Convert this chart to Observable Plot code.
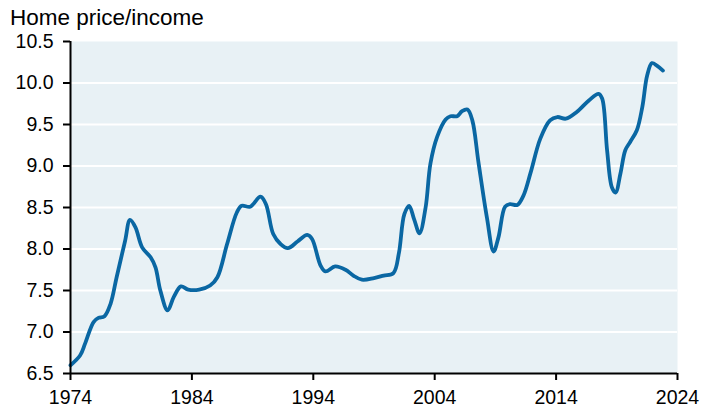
<!DOCTYPE html>
<html>
<head>
<meta charset="utf-8">
<script src="https://cdn.jsdelivr.net/npm/d3@7"></script>
<script src="https://cdn.jsdelivr.net/npm/@observablehq/plot@0.6"></script>
<style>
  html, body { margin: 0; padding: 0; background: #fff; }
  #sub { height: 23px; padding: 7px 0 0 10px; font: 22.5px "Liberation Sans", Arial, sans-serif; line-height: 1; color: #000; }
</style>
</head>
<body>
<div id="sub">Home price/income</div>
<div id="chart"></div>
<script>
const years = [1974.0,1974.8,1975.2,1975.9,1976.3,1976.8,1977.3,1977.8,1978.5,1978.9,1979.35,1979.9,1980.6,1981.0,1981.4,1982.0,1982.5,1983.1,1983.7,1984.6,1985.5,1986.1,1986.9,1987.7,1988.1,1988.8,1989.65,1990.1,1990.7,1991.3,1991.9,1992.7,1993.5,1993.9,1994.6,1995.0,1995.8,1996.65,1997.3,1998.0,1999.0,1999.8,2000.6,2001.05,2001.5,2001.9,2002.3,2002.75,2003.25,2003.65,2004.2,2004.9,2005.3,2005.85,2006.25,2006.7,2007.1,2007.6,2008.3,2008.85,2009.25,2009.8,2010.2,2010.8,2011.3,2011.9,2012.7,2013.5,2014.1,2014.8,2015.7,2016.7,2017.5,2017.8,2018.2,2018.6,2018.9,2019.3,2019.7,2020.1,2020.65,2021.1,2021.5,2021.9,2022.3,2022.8];
const ratio = [6.60,6.72,6.86,7.12,7.17,7.19,7.34,7.66,8.10,8.35,8.26,8.02,7.90,7.78,7.50,7.26,7.42,7.55,7.51,7.51,7.56,7.66,8.06,8.44,8.52,8.51,8.63,8.54,8.18,8.06,8.01,8.09,8.17,8.12,7.80,7.73,7.79,7.75,7.68,7.63,7.65,7.68,7.71,7.95,8.42,8.52,8.36,8.19,8.50,9.03,9.35,9.56,9.60,9.60,9.66,9.68,9.55,9.05,8.38,7.97,8.14,8.51,8.54,8.53,8.64,8.92,9.33,9.55,9.59,9.57,9.65,9.79,9.87,9.81,9.19,8.74,8.68,8.91,9.19,9.29,9.43,9.71,10.09,10.24,10.21,10.15];
const xTicks = [1974, 1984, 1994, 2004, 2014, 2024];
const yTicks = [6.5, 7.0, 7.5, 8.0, 8.5, 9.0, 9.5, 10.0, 10.5];

const data = years.map((y, i) => ({year: y, value: ratio[i]}));

const chart = Plot.plot({
  width: 713,
  height: 379,
  marginLeft: 70,
  marginRight: 36,
  marginTop: 11,
  marginBottom: 36,
  style: {fontFamily: "'Liberation Sans', Arial, sans-serif", fontSize: "19.5px", color: "#000", background: "#fff", overflow: "visible"},
  x: {domain: [1974, 2024]},
  y: {domain: [6.5, 10.5]},
  marks: [
    Plot.frame({fill: "#e8f1f5", stroke: null}),
    Plot.gridY(yTicks.slice(1, -1), {stroke: "#fff", strokeOpacity: 1, strokeWidth: 2}),
    Plot.line(data, {x: "year", y: "value", stroke: "#0a67a3", strokeWidth: 3.8, curve: "catmull-rom"}),
    Plot.axisX({ticks: xTicks, tickFormat: d => String(d), tickSize: 7, tickPadding: 10, label: null, strokeWidth: 2, fill: "#000"}),
    Plot.axisY({ticks: yTicks, tickFormat: d3.format(".1f"), tickSize: 7, tickPadding: 10, label: null, strokeWidth: 2, fill: "#000"}),
    Plot.ruleY([6.5], {stroke: "#000", strokeWidth: 2}),
    Plot.ruleX([1974], {stroke: "#000", strokeWidth: 2})
  ]
});
document.getElementById("chart").appendChild(chart);
</script>
</body>
</html>
